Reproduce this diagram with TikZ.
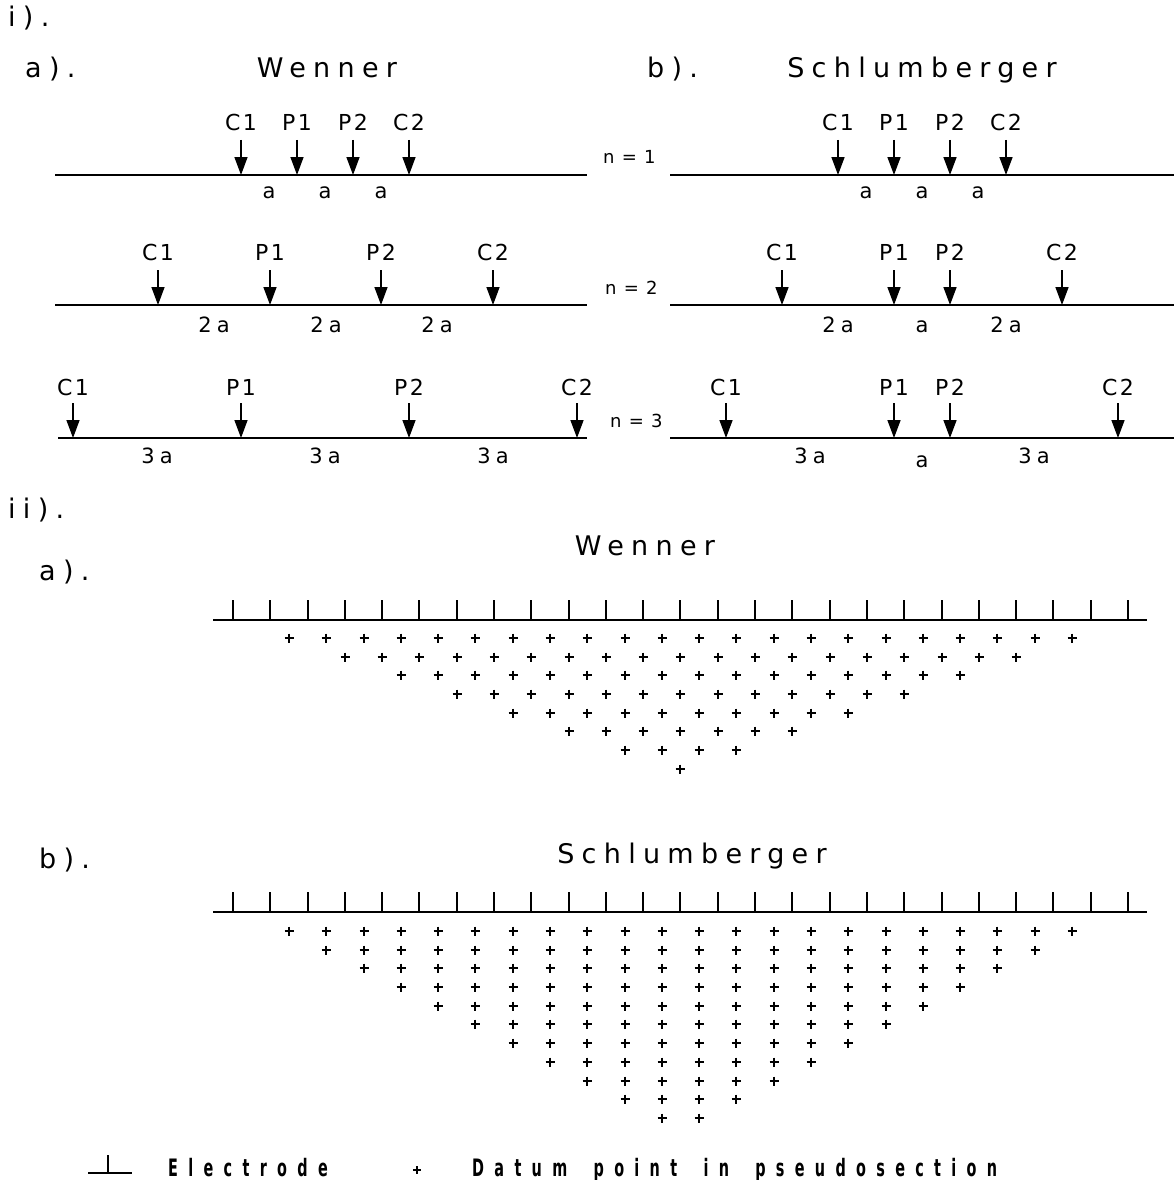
\documentclass[tikz,border=0pt]{standalone}
\usepackage{fontspec}
\setmainfont{DejaVu Sans}
\newfontfamily\bigf[LetterSpace=27]{DejaVu Sans}
\newfontfamily\labf[LetterSpace=12]{DejaVu Sans}
\newfontfamily\af[LetterSpace=25]{DejaVu Sans}
\newfontfamily\nf[LetterSpace=8]{DejaVu Sans}
\newfontfamily\legf[LetterSpace=43,FakeStretch=0.6]{DejaVu Sans}
\newcommand\wgap{\hspace{11pt}}
\usetikzlibrary{arrows.meta}
\tikzset{
  bigw/.style={font=\bigf\fontsize{27}{30}\selectfont, inner sep=0pt, anchor=base west},
  ttl/.style={font=\bigf\fontsize{27}{30}\selectfont, inner sep=0pt, anchor=base},
  lab/.style={font=\labf\fontsize{22}{24}\selectfont, inner sep=0pt, anchor=base},
  alab/.style={font=\af\fontsize{21}{23}\selectfont, inner sep=0pt, anchor=base},
  nlab/.style={font=\nf\fontsize{18}{20}\selectfont, inner sep=0pt, anchor=base west},
  legtxt/.style={font=\legf\bfseries\fontsize{24}{26}\selectfont, inner sep=0pt, anchor=base west},
  ground/.style={line width=1.6pt},
  elec/.style={line width=1.5pt, -{Triangle[length=18pt,width=13pt]}},
  tick/.style={line width=1.5pt},
  datum/.style={line width=1.6pt}
}
\begin{document}
\begin{tikzpicture}[x=1pt,y=-1pt]
\fill[white] (0,0) rectangle (1174,1180);
\useasboundingbox (0,0) rectangle (1174,1180);

% ---------- part i ----------
\node[bigw] (ti) at (8,27) {i).};
\node[bigw] (ta) at (25,78) {a).};
\node[ttl] (tw) at (327,78) {Wenner};
\node[bigw] (tb) at (647,78) {b).};
\node[ttl] (ts) at (922,78) {Schlumberger};

% ground lines
\draw[ground] (55,175) coordinate (gw1a) -- (587,175) coordinate (gw1b);
\draw[ground] (55,305) coordinate (gw2a) -- (587,305) coordinate (gw2b);
\draw[ground] (58,438) coordinate (gw3a) -- (587,438) coordinate (gw3b);
\draw[ground] (670,175) coordinate (gs1a) -- (1174,175) coordinate (gs1b);
\draw[ground] (670,305) coordinate (gs2a) -- (1174,305) coordinate (gs2b);
\draw[ground] (670,438) coordinate (gs3a) -- (1174,438) coordinate (gs3b);

% electrodes
\foreach \x/\t [count=\i] in {241/C1,297/P1,353/P2,409/C2}{
  \node[lab] (wa\i) at (\x,131) {\t};
  \coordinate (wat\i) at (\x,140); \coordinate (wab\i) at (\x,175);
  \draw[elec] (wat\i) -- (wab\i);}
\foreach \x/\t [count=\i] in {158/C1,270/P1,381/P2,493/C2}{
  \node[lab] (wb\i) at (\x,260) {\t};
  \coordinate (wbt\i) at (\x,270); \coordinate (wbb\i) at (\x,305);
  \draw[elec] (wbt\i) -- (wbb\i);}
\foreach \x/\t [count=\i] in {73/C1,241/P1,409/P2,577/C2}{
  \node[lab] (wc\i) at (\x,395) {\t};
  \coordinate (wct\i) at (\x,403); \coordinate (wcb\i) at (\x,438);
  \draw[elec] (wct\i) -- (wcb\i);}
\foreach \x/\t [count=\i] in {838/C1,894/P1,950/P2,1006/C2}{
  \node[lab] (sa\i) at (\x,131) {\t};
  \coordinate (sat\i) at (\x,140); \coordinate (sab\i) at (\x,175);
  \draw[elec] (sat\i) -- (sab\i);}
\foreach \x/\t [count=\i] in {782/C1,894/P1,950/P2,1062/C2}{
  \node[lab] (sb\i) at (\x,260) {\t};
  \coordinate (sbt\i) at (\x,270); \coordinate (sbb\i) at (\x,305);
  \draw[elec] (sbt\i) -- (sbb\i);}
\foreach \x/\t [count=\i] in {726/C1,894/P1,950/P2,1118/C2}{
  \node[lab] (sc\i) at (\x,395) {\t};
  \coordinate (sct\i) at (\x,403); \coordinate (scb\i) at (\x,438);
  \draw[elec] (sct\i) -- (scb\i);}

% spacing labels
\foreach \x [count=\i] in {269,325,381}{\node[alab] (wda\i) at (\x,198) {a};}
\foreach \x [count=\i] in {214,326,437}{\node[alab] (wdb\i) at (\x,332) {2a};}
\foreach \x [count=\i] in {157,325,493}{\node[alab] (wdc\i) at (\x,463) {3a};}
\foreach \x [count=\i] in {866,922,978}{\node[alab] (sda\i) at (\x,198) {a};}
\node[alab] (sdb1) at (838,332) {2a};
\node[alab] (sdb2) at (922,332) {a};
\node[alab] (sdb3) at (1006,332) {2a};
\node[alab] (sdc1) at (810,463) {3a};
\node[alab] (sdc2) at (922,467) {a};
\node[alab] (sdc3) at (1034,463) {3a};

% n labels
\node[nlab] (n1) at (603,164) {n = 1};
\node[nlab] (n2) at (605,294) {n = 2};
\node[nlab] (n3) at (610,427) {n = 3};

% ---------- part ii ----------
\node[bigw] (tii) at (8,518) {ii).};
\node[bigw] (tiia) at (39,580) {a).};
\node[ttl] (tiiw) at (645,555) {Wenner};
\node[bigw] (tiib) at (39,868) {b).};
\node[ttl] (tiis) at (692,863) {Schlumberger};

% Wenner pseudosection
\draw[ground] (213,620) coordinate (pwa) -- (1147,620) coordinate (pwb);
\foreach \k in {0,...,24}{\draw[tick] ({round(233+\k*37.29)},600) -- ({round(233+\k*37.29)},620);}
\foreach \n in {1,...,8}{
  \pgfmathtruncatemacro\cnt{24-3*\n}
  \foreach \k in {0,...,\cnt}{
    \pgfmathsetmacro\px{round(233+(1.5*\n+\k)*37.29)}
    \pgfmathsetmacro\py{round(638+(\n-1)*18.7)}
    \draw[datum] (\px-4.5,\py) -- (\px+4.5,\py) (\px,\py-4.5) -- (\px,\py+4.5);}}

% Schlumberger pseudosection
\draw[ground] (213,912) coordinate (psa) -- (1147,912) coordinate (psb);
\foreach \k in {0,...,24}{\draw[tick] ({round(233+\k*37.29)},892) -- ({round(233+\k*37.29)},912);}
\foreach \n in {1,...,11}{
  \pgfmathtruncatemacro\cnt{23-2*\n}
  \foreach \k in {0,...,\cnt}{
    \pgfmathsetmacro\px{round(233+(\n+0.5+\k)*37.29)}
    \pgfmathsetmacro\py{round(931+(\n-1)*18.7)}
    \draw[datum] (\px-4.5,\py) -- (\px+4.5,\py) (\px,\py-4.5) -- (\px,\py+4.5);}}

% ---------- legend ----------
\draw[line width=2.2pt] (88,1173) -- (132,1173);
\draw[tick] (108,1155) -- (108,1173);
\node[legtxt] (le) at (168,1176) {Electrode};
\draw[datum] (413,1170) -- (421,1170) (417,1166) -- (417,1174);
\node[legtxt] (ld) at (472,1176) {Datum\wgap{} point\wgap{} in\wgap{} pseudosection};
\end{tikzpicture}
\end{document}
